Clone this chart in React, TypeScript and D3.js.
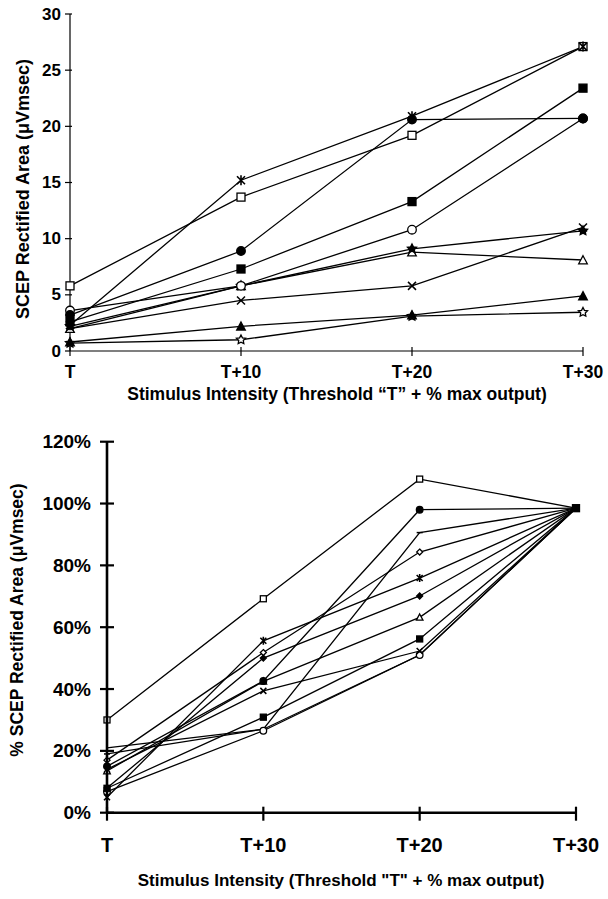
import React from "react";
import * as d3 from "d3";

const categories = ["T", "T+10", "T+20", "T+30"];
const topTicks = [0, 5, 10, 15, 20, 25, 30];
const bottomTicks = [0, 0.2, 0.4, 0.6, 0.8, 1.0, 1.2];

// Top panel: SCEP rectified area (µVmsec)
const topAsterisk = [2.3, 15.2, 20.9, 27.1];
const topOpenSquare = [5.8, 13.7, 19.2, 27.1];
const topFilledCircle = [3.2, 8.9, 20.6, 20.7];
const topFilledSquare = [2.6, 7.3, 13.3, 23.4];
const topOpenCircle = [3.6, 5.8, 10.8, 20.7];
const topFilledStar = [2.2, 5.8, 9.1, 10.7];
const topOpenTriangle = [2.0, 5.8, 8.8, 8.1];
const topCross = [2.0, 4.5, 5.8, 11.0];
const topFilledTriangle = [0.8, 2.2, 3.2, 4.9];
const topOpenStar = [0.7, 1.0, 3.1, 3.45];

// Bottom panel: % SCEP rectified area
const botOpenSquare = [0.30, 0.692, 1.079, 0.985];
const botAsterisk = [0.05, 0.556, 0.759, 0.985];
const botOpenDiamond = [0.17, 0.518, 0.843, 0.985];
const botFilledDiamond = [0.08, 0.50, 0.701, 0.985];
const botFilledCircle = [0.15, 0.426, 0.98, 0.985];
const botCross = [0.14, 0.394, 0.523, 0.985];
const botFilledSquare = [0.079, 0.309, 0.562, 0.985];
const botOpenCircle = [0.068, 0.265, 0.51, 0.985];
const botPlain = [0.19, 0.27, 0.906, 0.985];
const botOpenTriangle = [0.135, 0.425, 0.632, 0.985];
const botRowEnd = [0.21, 0.27, 0.51, 0.985];

const topSeries = [
  { values: topOpenStar, marker: "star-open" },
  { values: topFilledTriangle, marker: "triangle-filled" },
  { values: topCross, marker: "x" },
  { values: topOpenTriangle, marker: "triangle-open" },
  { values: topFilledStar, marker: "star-filled" },
  { values: topOpenCircle, marker: "circle-open" },
  { values: topFilledSquare, marker: "square-filled" },
  { values: topFilledCircle, marker: "circle-filled" },
  { values: topOpenSquare, marker: "square-open" },
  { values: topAsterisk, marker: "asterisk" },
];

const bottomSeries = [
  { values: botRowEnd, marker: "none" },
  { values: botPlain, marker: "dash" },
  { values: botOpenCircle, marker: "circle-open" },
  { values: botFilledSquare, marker: "square-filled" },
  { values: botCross, marker: "x" },
  { values: botOpenTriangle, marker: "triangle-open" },
  { values: botFilledCircle, marker: "circle-filled" },
  { values: botFilledDiamond, marker: "diamond-filled" },
  { values: botOpenDiamond, marker: "diamond-open" },
  { values: botAsterisk, marker: "asterisk" },
  { values: botOpenSquare, marker: "square-open" },
];

const FONT = "'Liberation Sans', Arial, Helvetica, sans-serif";

function starPath(R: number) {
  const pts: [number, number][] = [];
  for (let i = 0; i < 10; i++) {
    const r = i % 2 === 0 ? R : R * 0.5;
    const a = -Math.PI / 2 + (i * Math.PI) / 5;
    pts.push([r * Math.cos(a), r * Math.sin(a)]);
  }
  return "M" + pts.map((p) => p.join(",")).join("L") + "Z";
}

function Marker({ type, x, y, s }: { type: string; x: number; y: number; s: number }) {
  const sw = 1.3;
  const t = `translate(${x},${y})`;
  switch (type) {
    case "square-open":
    case "square-filled":
      return (
        <rect x={x - s / 2} y={y - s / 2} width={s} height={s}
          fill={type === "square-open" ? "#fff" : "#000"} stroke="#000" strokeWidth={sw} />
      );
    case "circle-open":
    case "circle-filled":
      return (
        <circle cx={x} cy={y} r={s / 2 + 0.3}
          fill={type === "circle-open" ? "#fff" : "#000"} stroke="#000" strokeWidth={sw} />
      );
    case "triangle-open":
    case "triangle-filled": {
      const h = s * 0.95;
      const p = `M0,${-h / 2 - 0.5}L${s / 2 + 0.3},${h / 2}L${-s / 2 - 0.3},${h / 2}Z`;
      return <path transform={t} d={p} fill={type === "triangle-open" ? "#fff" : "#000"} stroke="#000" strokeWidth={sw} />;
    }
    case "diamond-open":
    case "diamond-filled": {
      const p = `M0,${-s / 2}L${s / 2},0L0,${s / 2}L${-s / 2},0Z`;
      return <path transform={t} d={p} fill={type === "diamond-open" ? "#fff" : "#000"} stroke="#000" strokeWidth={sw} />;
    }
    case "star-open":
    case "star-filled":
      return <path transform={t} d={starPath(s / 2 + 0.8)} fill={type === "star-open" ? "#fff" : "#000"} stroke="#000" strokeWidth={sw} />;
    case "x": {
      const h = s / 2;
      return <path transform={t} d={`M${-h},${-h}L${h},${h}M${-h},${h}L${h},${-h}`} stroke="#000" strokeWidth={1.5} fill="none" />;
    }
    case "asterisk": {
      const h = s / 2;
      return <path transform={t} d={`M${-h},${-h}L${h},${h}M${-h},${h}L${h},${-h}M0,${-h - 1}L0,${h + 1}`} stroke="#000" strokeWidth={1.6} fill="none" />;
    }
    case "dash":
      return <path transform={t} d={`M${-s / 2},0L${s / 2},0`} stroke="#000" strokeWidth={1.5} />;
    default:
      return null;
  }
}

export default function App() {
  // top panel scales
  const xT = d3.scalePoint<string>().domain(categories).range([70, 583]);
  const yT = d3.scaleLinear().domain([0, 30]).range([351, 14]);
  // bottom panel scales
  const xB = d3.scalePoint<string>().domain(categories).range([107, 576]);
  const yB = d3.scaleLinear().domain([0, 1.2]).range([812.7, 441.7]);

  const lineT = d3.line<number>().x((_, i) => xT(categories[i])!).y((v) => yT(v));
  const lineB = d3.line<number>().x((_, i) => xB(categories[i])!).y((v) => yB(v));
  const pct = d3.format(".0%");

  return (
    <svg width={608} height={899} style={{ position: "absolute", left: 0, top: 0, background: "#fff" }}
      fontFamily={FONT} fontWeight="bold">
      {/* ---------- TOP PANEL ---------- */}
      <g>
        <line x1={xT("T")} x2={xT("T")} y1={yT(30)} y2={yT(0)} stroke="#000" strokeWidth={1.2} />
        <line x1={xT("T")} x2={xT("T+30")} y1={yT(0)} y2={yT(0)} stroke="#000" strokeWidth={1.2} />
        {topTicks.map((t) => (
          <g key={"tt" + t}>
            <line x1={xT("T")! - 5} x2={xT("T")! + (t === 0 ? 0 : 2)} y1={yT(t)} y2={yT(t)} stroke="#000" strokeWidth={1.2} />
            <text x={61} y={yT(t)} textAnchor="end" dominantBaseline="central" fontSize={17}>{t}</text>
          </g>
        ))}
        {categories.map((c) => (
          <g key={"tx" + c}>
            <line x1={xT(c)} x2={xT(c)} y1={yT(0) - 4} y2={yT(0) + 5} stroke="#000" strokeWidth={1.2} />
            <text x={xT(c)} y={378} textAnchor="middle" fontSize={17.5}>{c}</text>
          </g>
        ))}
        <text x={337} y={400} textAnchor="middle" fontSize={17.5}>
          Stimulus Intensity (Threshold “T” + % max output)
        </text>
        <text transform={`translate(23,189) rotate(-90)`} textAnchor="middle" dominantBaseline="central" fontSize={18}>
          SCEP Rectified Area (μVmsec)
        </text>
        {topSeries.map((s, i) => (
          <path key={"tl" + i} d={lineT(s.values)!} fill="none" stroke="#000" strokeWidth={1.3} />
        ))}
        {topSeries.map((s, i) =>
          s.values.map((v, j) => (
            <Marker key={`tm${i}-${j}`} type={s.marker} x={xT(categories[j])!} y={yT(v)} s={8} />
          ))
        )}
      </g>

      {/* ---------- BOTTOM PANEL ---------- */}
      <g>
        {bottomSeries.map((s, i) => (
          <path key={"bl" + i} d={lineB(s.values)!} fill="none" stroke="#000" strokeWidth={1.3} />
        ))}
        {bottomSeries.map((s, i) =>
          s.values.map((v, j) =>
            j === 3 ? null : (
              <Marker key={`bm${i}-${j}`} type={s.marker} x={xB(categories[j])!} y={yB(v)} s={6} />
            )
          )
        )}
        <Marker type="square-filled" x={xB("T+30")!} y={yB(botOpenSquare[3])} s={7} />
        <line x1={xB("T")} x2={xB("T")} y1={yB(1.2)} y2={yB(0)} stroke="#000" strokeWidth={2.6} />
        <line x1={xB("T")! - 1} x2={xB("T+30")} y1={yB(0)} y2={yB(0)} stroke="#000" strokeWidth={2.6} />
        {bottomTicks.map((t) => (
          <g key={"bt" + t}>
            <line x1={xB("T")! - 7} x2={xB("T")! + 7} y1={yB(t)} y2={yB(t)} stroke="#000" strokeWidth={2.2} />
            <text x={91} y={yB(t)} textAnchor="end" dominantBaseline="central" fontSize={19}>{pct(t)}</text>
          </g>
        ))}
        {categories.map((c) => (
          <g key={"bx" + c}>
            <line x1={xB(c)} x2={xB(c)} y1={yB(0) - 6} y2={yB(0) + 8} stroke="#000" strokeWidth={2.2} />
            <text x={xB(c)} y={852} textAnchor="middle" fontSize={20}>{c}</text>
          </g>
        ))}
        <text x={341} y={886} textAnchor="middle" fontSize={17}>
          Stimulus Intensity (Threshold "T" + % max output)
        </text>
        <text transform={`translate(17,620) rotate(-90)`} textAnchor="middle" dominantBaseline="central" fontSize={17.5}>
          % SCEP Rectified Area (μVmsec)
        </text>
      </g>
    </svg>
  );
}
